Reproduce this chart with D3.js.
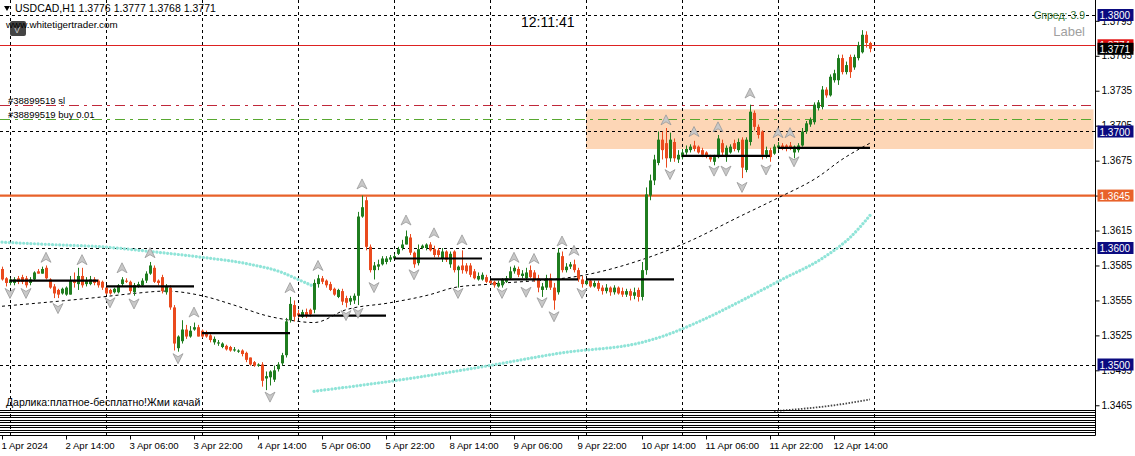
<!DOCTYPE html>
<html><head><meta charset="utf-8">
<script src="https://cdn.jsdelivr.net/npm/d3@7"></script>
<style>
html,body{margin:0;padding:0;background:#fff;}
svg{display:block;font-family:"Liberation Sans",Arial,sans-serif;}
</style></head><body>
<svg id="c" width="1135" height="456"></svg>
<script>
// ---- DATA (prices in points, 1 pt = 0.0001) ----
const openPts = [13582,13574,13570,13570,13574,13575,13574,13570,13573,13580,13578,13583,13573,13567,13564,13561,13560,13560,13572,13569,13576,13569,13569,13573,13572,13571,13566,13564,13562,13562,13569,13572,13571,13562,13567,13568,13572,13578,13583,13572,13575,13562,13566,13549,13514,13520,13530,13524,13530,13532,13529,13527,13525,13519,13518,13515,13516,13515,13512,13511,13512,13510,13506,13502,13499,13500,13488,13489,13487,13496,13501,13508,13538,13551,13544,13541,13545,13547,13547,13569,13574,13572,13569,13565,13558,13563,13557,13554,13555,13559,13627,13641,13601,13581,13584,13586,13588,13590,13591,13595,13600,13603,13609,13596,13587,13600,13600,13603,13599,13598,13591,13597,13586,13597,13581,13585,13585,13585,13580,13573,13573,13575,13572,13571,13567,13568,13571,13574,13580,13582,13576,13574,13581,13579,13574,13564,13566,13574,13566,13562,13593,13581,13584,13586,13581,13573,13569,13572,13567,13570,13566,13563,13566,13562,13566,13563,13560,13563,13559,13564,13558,13581,13645,13658,13673,13693,13690,13677,13691,13676,13678,13682,13684,13688,13687,13684,13682,13678,13674,13678,13690,13678,13682,13690,13684,13693,13667,13691,13716,13704,13700,13680,13684,13681,13686,13688,13688,13688,13682,13684,13688,13700,13706,13708,13720,13721,13736,13731,13744,13744,13763,13751,13764,13755,13763,13768,13783,13776];
const highPts = [13584,13575,13574,13575,13576,13577,13576,13575,13580,13582,13584,13585,13574,13569,13565,13566,13567,13576,13579,13583,13583,13575,13576,13575,13573,13572,13568,13565,13566,13569,13575,13574,13572,13570,13571,13574,13580,13588,13585,13573,13577,13569,13568,13551,13525,13538,13534,13533,13536,13534,13530,13529,13526,13524,13521,13519,13517,13516,13515,13513,13513,13511,13506,13503,13501,13502,13494,13495,13499,13502,13510,13540,13558,13555,13547,13547,13548,13548,13573,13577,13576,13573,13571,13566,13565,13565,13559,13559,13561,13631,13645,13644,13603,13588,13590,13593,13593,13594,13595,13601,13607,13615,13612,13597,13603,13603,13604,13605,13602,13600,13600,13598,13597,13598,13585,13598,13587,13587,13582,13579,13579,13577,13573,13572,13572,13574,13576,13584,13585,13584,13581,13583,13585,13581,13577,13570,13577,13578,13570,13600,13597,13587,13588,13590,13583,13576,13573,13573,13572,13572,13568,13569,13567,13568,13567,13566,13565,13565,13566,13566,13588,13652,13663,13680,13700,13700,13703,13699,13694,13684,13685,13688,13689,13692,13688,13686,13683,13680,13680,13697,13693,13688,13689,13693,13694,13695,13695,13723,13718,13706,13701,13687,13686,13689,13691,13690,13689,13691,13688,13690,13703,13709,13712,13725,13727,13739,13738,13749,13753,13766,13766,13760,13766,13766,13777,13787,13786,13777];
const lowPts = [13572,13567,13568,13568,13569,13569,13566,13568,13572,13578,13578,13573,13565,13557,13557,13560,13559,13560,13566,13564,13566,13567,13568,13568,13566,13564,13560,13560,13561,13561,13567,13570,13561,13559,13566,13567,13570,13577,13570,13568,13561,13560,13547,13512,13511,13518,13522,13523,13529,13524,13523,13523,13519,13517,13516,13514,13512,13511,13511,13510,13507,13502,13499,13498,13498,13481,13478,13482,13485,13494,13499,13506,13536,13537,13540,13540,13540,13541,13544,13566,13569,13566,13563,13559,13557,13551,13549,13551,13552,13551,13626,13598,13579,13573,13581,13585,13586,13588,13591,13594,13598,13603,13594,13583,13585,13599,13598,13597,13592,13592,13588,13588,13583,13579,13566,13578,13578,13575,13573,13572,13572,13570,13569,13566,13566,13566,13570,13573,13578,13575,13574,13572,13574,13571,13562,13558,13564,13564,13547,13560,13579,13579,13582,13579,13571,13566,13568,13566,13566,13563,13560,13561,13559,13560,13560,13558,13558,13555,13556,13554,13555,13577,13641,13654,13671,13676,13669,13674,13674,13673,13676,13680,13682,13683,13681,13678,13677,13674,13671,13677,13679,13674,13681,13683,13682,13660,13665,13688,13701,13694,13676,13677,13674,13680,13684,13684,13683,13684,13677,13682,13687,13698,13704,13706,13718,13719,13729,13730,13742,13740,13749,13749,13746,13753,13761,13767,13772,13768];
const closePts = [13573,13570,13573,13573,13571,13571,13568,13573,13579,13578,13582,13574,13566,13561,13560,13565,13566,13572,13570,13576,13568,13572,13573,13570,13568,13566,13561,13561,13565,13568,13573,13571,13563,13568,13569,13572,13578,13585,13571,13570,13563,13567,13549,13518,13524,13530,13524,13529,13532,13524,13524,13524,13521,13522,13519,13518,13513,13512,13513,13512,13509,13504,13500,13499,13500,13486,13490,13494,13495,13500,13508,13537,13552,13541,13542,13545,13542,13543,13570,13574,13571,13568,13564,13560,13564,13554,13553,13557,13559,13627,13635,13601,13581,13585,13586,13591,13591,13592,13593,13599,13603,13610,13596,13586,13599,13602,13603,13598,13594,13594,13597,13590,13595,13581,13584,13581,13580,13577,13574,13576,13577,13571,13570,13568,13570,13573,13574,13580,13583,13577,13578,13579,13575,13573,13566,13567,13574,13566,13555,13596,13581,13584,13586,13581,13573,13569,13572,13567,13570,13565,13563,13566,13562,13566,13561,13560,13563,13559,13562,13558,13581,13646,13658,13676,13693,13684,13677,13693,13677,13680,13682,13685,13687,13685,13682,13680,13679,13676,13678,13694,13682,13686,13687,13685,13691,13669,13693,13717,13704,13697,13680,13684,13678,13687,13688,13686,13685,13686,13687,13688,13700,13707,13710,13723,13725,13736,13731,13747,13750,13763,13751,13757,13751,13764,13774,13783,13776,13771];

// x-axis tick labels (bar index of each label)
const tickBars = [0,16,32,48,64,80,96,112,128,144,160,176,192,208];
const tickText = ["1 Apr 2024","2 Apr 14:00","3 Apr 06:00","3 Apr 22:00","4 Apr 14:00","5 Apr 06:00","5 Apr 22:00","8 Apr 14:00","9 Apr 06:00","9 Apr 22:00","10 Apr 14:00","11 Apr 06:00","11 Apr 22:00","12 Apr 14:00"];
// day separators (bar index of 00:00)
const dayBars = [2,26,50,74,98,122,146,170,194,218];
// right axis ticks
const priceTicks = [1.3795,1.3765,1.3735,1.3705,1.3675,1.3645,1.3615,1.3585,1.3555,1.3525,1.3495,1.3465];
const roundLevels = [1.3800,1.3700,1.3600,1.3500];
const srLevel = 1.3645, askPrice = 1.3774, bidPrice = 1.3771;
const slPrice = 1.3723, buyPrice = 1.3711;
const zoneTop = 1.3719, zoneBottom = 1.3685, zoneStartBar = 146;
// daily level segments: [startBar, endBar, price pts]
const segStart = [2,26,50,74,98,122,146,170,194];
const segEnd   = [24,48,72,96,120,144,168,192,217];
const segPts   = [13572,13567,13527,13542,13591,13573,13573,13679,13686];
// slow MA (cyan), two pieces
const cyanABars = [0,12,25,37,50,62,70,74,78];
const cyanAPts  = [13605,13603,13601,13597,13592,13586,13579,13573,13567];
const cyanBBars = [78,100,120,140,160,165,175,185,195,205,212,217];
const cyanBPts  = [13477,13487,13498,13510,13519,13524,13538,13555,13573,13591,13609,13628];
// dashed MA (black)
const maBars = [0,25,33,41,50,58,66,72,78,86,97,107,113,122,146,160,170,185,194,204,210,217];
const maPts  = [13550,13558,13561,13563,13559,13551,13542,13538,13536,13547,13553,13560,13566,13569,13577,13590,13603,13628,13643,13661,13676,13690];
// small dotted series bottom right
const dotBars = [193,208,217];
const dotPts  = [13460,13465,13470];
// fractals: [bar, price pts of glyph centre]
const upBars = [11,20,30,37,48,72,79,90,101,108,115,128,133,140,143,166,173,179,187,194,197];
const upPts  = [13592,13590,13583,13596,13545,13566,13585,13655,13624,13613,13607,13592,13591,13606,13598,13710,13700,13704,13733,13699,13699];
const dnBars = [2,6,14,27,33,44,67,86,89,93,103,114,125,131,135,138,145,167,178,181,185,191,198];
const dnPts  = [13561,13561,13548,13553,13552,13505,13472,13542,13544,13566,13577,13561,13561,13562,13553,13541,13561,13663,13666,13666,13652,13667,13674];

const P = v => v/10000;
const svg = d3.select("#c");
const x = d3.scaleLinear().domain([0,217]).range([2,870]);
const y = d3.scaleLinear().domain([1.35,1.38]).range([364.5,15]);
const AX = 1095.5, MAINB = 410, XAXY = 435.5;

// zone
svg.append("rect").attr("x",x(zoneStartBar)).attr("y",y(zoneTop)).attr("width",AX-x(zoneStartBar)-2)
  .attr("height",y(zoneBottom)-y(zoneTop)).attr("fill","#fdd6b6");

// vertical day grid
svg.append("g").selectAll("line").data(dayBars).join("line")
  .attr("x1",d=>Math.round(x(d))+0.5).attr("x2",d=>Math.round(x(d))+0.5).attr("y1",0).attr("y2",XAXY)
  .attr("stroke","#000").attr("stroke-dasharray","3,3").attr("stroke-width",1);
// round-level dashed lines
svg.append("g").selectAll("line").data(roundLevels).join("line")
  .attr("x1",0).attr("x2",AX).attr("y1",d=>Math.round(y(d))+0.5).attr("y2",d=>Math.round(y(d))+0.5)
  .attr("stroke","#000").attr("stroke-dasharray","3,3");
// SL / buy lines
svg.append("line").attr("x1",0).attr("x2",AX-3).attr("y1",Math.round(y(slPrice))+0.5).attr("y2",Math.round(y(slPrice))+0.5)
  .attr("stroke","#c0283a").attr("stroke-dasharray","10,5,3,5");
svg.append("line").attr("x1",0).attr("x2",AX-3).attr("y1",Math.round(y(buyPrice))+0.5).attr("y2",Math.round(y(buyPrice))+0.5)
  .attr("stroke","#58a830").attr("stroke-dasharray","10,5,3,5");
// ask line
svg.append("line").attr("x1",0).attr("x2",AX).attr("y1",Math.round(y(askPrice))+0.5).attr("y2",Math.round(y(askPrice))+0.5)
  .attr("stroke","#d22").attr("stroke-width",1);
// S/R orange line
svg.append("line").attr("x1",0).attr("x2",AX).attr("y1",y(srLevel)).attr("y2",y(srLevel))
  .attr("stroke","#e8622a").attr("stroke-width",2.2);

// cyan MA
const lineC = d3.line().x(d=>x(d[0])).y(d=>y(P(d[1]))).curve(d3.curveMonotoneX);
[[cyanABars,cyanAPts],[cyanBBars,cyanBPts]].forEach(([b,p])=>{
  svg.append("path").attr("d",lineC(b.map((v,k)=>[v,p[k]]))).attr("fill","none")
    .attr("stroke","#90e4d8").attr("stroke-width",3.2).attr("stroke-dasharray","0.01,3.6").attr("stroke-linecap","round");
});
// dashed MA
svg.append("path").attr("d",lineC(maBars.map((v,k)=>[v,maPts[k]]))).attr("fill","none")
  .attr("stroke","#000").attr("stroke-width",1).attr("stroke-dasharray","3,3");
// dotted small
svg.append("path").attr("d",lineC(dotBars.map((v,k)=>[v,dotPts[k]]))).attr("fill","none")
  .attr("stroke","#444").attr("stroke-width",1.8).attr("stroke-dasharray","1.5,1.5");

// candles
const bars = d3.range(openPts.length).map(i=>({i,o:P(openPts[i]),h:P(highPts[i]),l:P(lowPts[i]),c:P(closePts[i])}));
const cg = svg.append("g");
bars.forEach(b=>{
  const up = b.c>=b.o, col = up?"#1f7d1f":"#ea4a1e";
  const cx = Math.round(x(b.i))+0.5;
  cg.append("line").attr("x1",cx).attr("x2",cx).attr("y1",y(b.h)).attr("y2",y(b.l)).attr("stroke",col);
  const t = y(Math.max(b.o,b.c)), bt = y(Math.min(b.o,b.c));
  cg.append("rect").attr("x",cx-1.5).attr("y",t).attr("width",3).attr("height",Math.max(1,bt-t)).attr("fill",col);
});

// daily level segments
svg.append("g").selectAll("line").data(segStart).join("line")
  .attr("x1",d=>x(d)).attr("x2",(d,k)=>x(segEnd[k])).attr("y1",(d,k)=>y(P(segPts[k]))).attr("y2",(d,k)=>y(P(segPts[k])))
  .attr("stroke","#000").attr("stroke-width",2.2);

// fractals
const upPath = "M0,-5L5,5L0,2L-5,5Z", dnPath = "M0,5L5,-5L0,-2L-5,-5Z";
svg.append("g").selectAll("path").data(upBars).join("path")
  .attr("d",upPath).attr("transform",(d,k)=>`translate(${x(d)},${y(P(upPts[k]))})`)
  .attr("fill","#c8c8c8").attr("stroke","#999").attr("stroke-width",0.8);
svg.append("g").selectAll("path").data(dnBars).join("path")
  .attr("d",dnPath).attr("transform",(d,k)=>`translate(${x(d)},${y(P(dnPts[k]))})`)
  .attr("fill","#c8c8c8").attr("stroke","#999").attr("stroke-width",0.8);

// subwindow borders
const subLines = [410.5,412.5,415.5,417.5,420.5,422.5,425.5,427.5,430.5,432.5];
svg.append("g").selectAll("line").data(subLines).join("line")
  .attr("x1",0).attr("x2",AX).attr("y1",d=>d).attr("y2",d=>d).attr("stroke","#000");

// axes
svg.append("line").attr("x1",AX).attr("x2",AX).attr("y1",0).attr("y2",XAXY).attr("stroke","#000");
svg.append("line").attr("x1",0).attr("x2",AX).attr("y1",XAXY).attr("y2",XAXY).attr("stroke","#000");
const ya = svg.append("g").attr("transform",`translate(${AX},0)`)
  .call(d3.axisRight(y).tickValues(priceTicks).tickFormat(d3.format(".4f")).tickSize(4).tickPadding(2));
ya.select(".domain").remove();
ya.selectAll("text").attr("font-size",10).attr("font-family","Liberation Sans, Arial").attr("fill","#000");
const xa = svg.append("g").attr("transform",`translate(0,${XAXY})`)
  .call(d3.axisBottom(x).tickValues(tickBars).tickFormat((d,k)=>tickText[k]).tickSize(4).tickPadding(3));
xa.select(".domain").remove();
xa.selectAll("text").attr("text-anchor","start").attr("dx","-1").attr("font-size",9.6).attr("font-family","Liberation Sans, Arial").attr("fill","#000");

// price boxes
function box(price, fill, label){
  const cy = y(price);
  svg.append("rect").attr("x",AX+2).attr("y",cy-6).attr("width",36).attr("height",12).attr("fill",fill);
  svg.append("text").attr("x",AX+4).attr("y",cy+4).attr("fill","#fff").attr("font-size",10).text(label);
}
roundLevels.forEach(l=>box(l,"#0b0b80",l.toFixed(4)));
box(srLevel,"#e8622a",srLevel.toFixed(4));
box(askPrice,"#e01010",askPrice.toFixed(4));
box(bidPrice,"#000",bidPrice.toFixed(4));

// texts
svg.append("path").attr("d","M4,6L10,6L7,11Z").attr("fill","#000");
svg.append("text").attr("x",15).attr("y",12).attr("font-size",10.5).text("USDCAD,H1 1.3776 1.3777 1.3768 1.3771");
svg.append("rect").attr("x",10).attr("y",21).attr("width",16).attr("height",15).attr("rx",2).attr("fill","#444");
svg.append("text").attr("x",14).attr("y",33).attr("font-size",9).attr("fill","#ccc").text("V");
svg.append("text").attr("x",6).attr("y",28).attr("font-size",9.8).text("www.whitetigertrader.com");
svg.append("text").attr("x",521).attr("y",27).attr("font-size",14).text("12:11:41");
svg.append("text").attr("x",1085).attr("y",19).attr("text-anchor","end").attr("font-size",10.5).attr("fill","#2f6f2f").text("Спред: 3.9");
svg.append("text").attr("x",1085).attr("y",36).attr("text-anchor","end").attr("font-size",13).attr("fill","#a0a0a0").text("Label");
svg.append("text").attr("x",8).attr("y",104).attr("font-size",9.5).text("#38899519 sl");
svg.append("text").attr("x",8).attr("y",118).attr("font-size",9.5).text("#38899519 buy 0.01");
svg.append("text").attr("x",6).attr("y",406).attr("font-size",10.5).text("Дарлика:платное-бесплатно!Жми качай");
</script>
</body></html>
